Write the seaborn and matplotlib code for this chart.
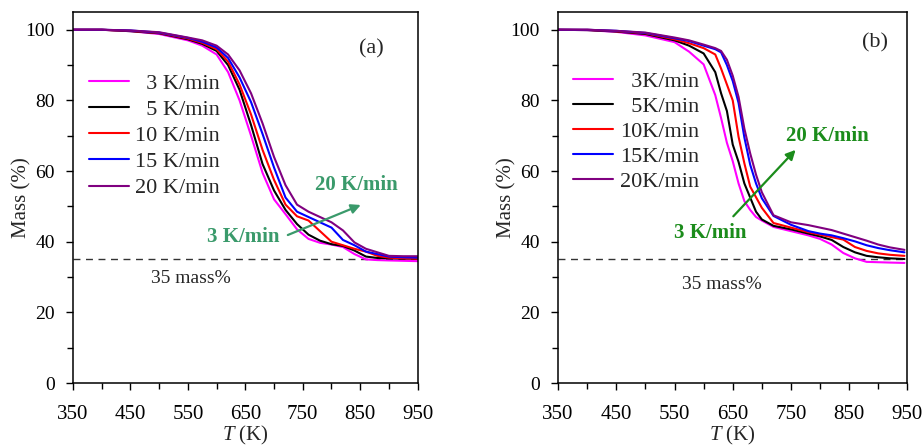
"""
TGA mass-loss curves at five heating rates, two samples (a) and (b).
"""

import numpy as np
import pandas as pd
import matplotlib
matplotlib.use("Agg")
import matplotlib.pyplot as plt
from matplotlib.ticker import FixedLocator, MultipleLocator
import seaborn as sns


# -----------------------------
# Data
# -----------------------------
RATES = ["3", "5", "10", "15", "20"]
COLORS = ["#FF00FF", "#000000", "#FF0000", "#0000FF", "#800080"]
X_TICKS = [350, 450, 550, 650, 750, 850, 950]

# panel (a)
T_A = [350, 400, 450, 500, 550, 575, 600, 620, 640, 660, 680, 700, 720, 740,
       760, 780, 800, 820, 840, 860, 880, 900, 925, 950]
MASS_A_3 = [100, 100, 99.6, 98.8, 97.0, 95.5, 93.0, 88.0, 80.0, 70.0, 59.5, 52.0,
            47.8, 43.5, 40.8, 39.7, 39.2, 38.5, 36.5, 35.0, 34.8, 34.7, 34.6, 34.5]
MASS_A_5 = [100, 100, 99.6, 99.0, 97.3, 96.0, 94.0, 90.0, 83.0, 73.0, 62.0, 54.5,
            49.0, 45.0, 42.0, 40.3, 39.3, 38.8, 37.5, 35.8, 35.4, 35.3, 35.2, 35.2]
MASS_A_10 = [100, 100, 99.7, 99.1, 97.5, 96.3, 94.5, 91.0, 84.5, 76.0, 66.0, 57.5,
             50.5, 47.2, 46.0, 43.0, 40.0, 39.0, 38.0, 37.2, 36.0, 35.5, 35.3, 35.2]
MASS_A_15 = [100, 100, 99.8, 99.2, 97.7, 96.6, 95.0, 92.0, 86.5, 79.5, 70.5, 61.0,
             52.5, 48.5, 47.0, 45.5, 44.0, 40.5, 39.0, 37.2, 36.5, 35.8, 35.6, 35.5]
MASS_A_20 = [100, 100, 99.8, 99.3, 97.8, 97.0, 95.5, 93.0, 88.5, 82.0, 73.5, 64.0,
             56.0, 50.5, 48.5, 47.0, 45.5, 43.2, 39.8, 38.0, 37.0, 36.0, 35.9, 35.9]

# panel (b)
T_B = [350, 400, 450, 500, 550, 575, 600, 620, 630, 640, 650, 660, 670, 680, 690,
       700, 720, 750, 780, 800, 820, 840, 860, 880, 900, 920, 945]
MASS_B_3 = [100, 99.9, 99.4, 98.4, 96.5, 93.8, 90.2, 81.5, 75.0, 68.0, 62.8, 56.5,
            51.5, 49.0, 47.0, 46.0, 44.2, 43.0, 41.8, 40.8, 39.2, 36.8, 35.3, 34.3,
            34.2, 34.1, 34.0]
MASS_B_5 = [100, 99.9, 99.5, 98.8, 97.0, 95.5, 93.3, 88.0, 82.0, 77.0, 67.5, 62.6,
            56.5, 52.5, 48.5, 46.3, 44.5, 43.5, 42.3, 41.5, 40.5, 38.5, 37.0, 36.0,
            35.6, 35.3, 35.1]
MASS_B_10 = [100, 100, 99.6, 99.0, 97.3, 96.2, 94.8, 93.0, 89.0, 84.5, 80.0, 69.7,
             62.2, 55.6, 52.6, 49.6, 45.3, 44.0, 42.7, 42.0, 41.3, 40.6, 38.5, 37.4,
             36.7, 36.3, 36.0]
MASS_B_15 = [100, 100, 99.7, 99.1, 97.6, 96.8, 95.5, 94.5, 93.6, 90.0, 85.5, 79.3,
             69.5, 61.8, 56.5, 52.3, 47.3, 44.8, 43.0, 42.3, 41.8, 41.0, 40.1, 39.0,
             38.2, 37.6, 37.0]
MASS_B_20 = [100, 100, 99.7, 99.2, 97.8, 97.0, 95.8, 94.8, 94.0, 91.5, 87.0, 81.0,
             72.0, 65.0, 59.0, 54.0, 47.5, 45.5, 44.7, 44.0, 43.3, 42.3, 41.3, 40.3,
             39.2, 38.4, 37.7]

LABELS_A = ["  3 K/min", "  5 K/min", "10 K/min", "15 K/min", "20 K/min"]
LABELS_B = ["  3K/min", "  5K/min", "10K/min", "15K/min", "20K/min"]


def to_long(temps, series):
    frames = []
    for rate, mass in zip(RATES, series):
        frames.append(pd.DataFrame({"T": temps, "Mass": mass, "Rate": rate}))
    return pd.concat(frames, ignore_index=True)


df_a = to_long(T_A, [MASS_A_3, MASS_A_5, MASS_A_10, MASS_A_15, MASS_A_20])
df_b = to_long(T_B, [MASS_B_3, MASS_B_5, MASS_B_10, MASS_B_15, MASS_B_20])

# -----------------------------
# Style
# -----------------------------
sns.set_style("ticks")
plt.rcParams["font.family"] = ["Liberation Serif", "DejaVu Serif"]
plt.rcParams["mathtext.fontset"] = "custom"
plt.rcParams["mathtext.it"] = "Liberation Serif:italic"
plt.rcParams["mathtext.rm"] = "Liberation Serif"

palette = dict(zip(RATES, COLORS))

fig = plt.figure(figsize=(9.24, 4.48), dpi=100)
ax_a = fig.add_axes([0.079, 0.145, 0.373, 0.828])
ax_b = fig.add_axes([0.604, 0.145, 0.378, 0.828])


def style_axis(ax):
    ax.set_xlim(350, 950)
    ax.set_ylim(0, 105)
    ax.xaxis.set_major_locator(FixedLocator(X_TICKS))
    ax.xaxis.set_minor_locator(FixedLocator([x + 50 for x in X_TICKS[:-1]]))
    ax.yaxis.set_major_locator(MultipleLocator(20))
    ax.yaxis.set_minor_locator(MultipleLocator(10))
    ax.tick_params(axis="both", which="major", direction="out", length=5,
                   width=1, color="black", labelcolor="black")
    ax.tick_params(axis="x", which="major", labelsize=15, pad=11)
    ax.tick_params(axis="y", which="major", labelsize=14, pad=8)
    ax.tick_params(axis="both", which="minor", direction="out", length=4,
                   width=1, color="black")
    ax.tick_params(top=False, right=False)
    for sp in ax.spines.values():
        sp.set_color("black")
        sp.set_linewidth(1.1)
    ax.axhline(35, color="#333333", lw=1.0, ls=(0, (5, 4)), zorder=1)
    ax.set_xlabel("$T$ (K)", fontsize=15, labelpad=0)
    ax.set_ylabel("Mass (%)", fontsize=15, labelpad=-4)


for ax, df, labels, tag in [(ax_a, df_a, LABELS_A, "(a)"), (ax_b, df_b, LABELS_B, "(b)")]:
    sns.lineplot(data=df, x="T", y="Mass", hue="Rate", hue_order=RATES,
                 palette=palette, estimator=None, sort=True, lw=1.5, ax=ax)
    style_axis(ax)
    handles, _ = ax.get_legend_handles_labels()
    ax.legend(handles[:5], labels, loc="upper left", frameon=False, fontsize=16,
              handlelength=1.8, handletextpad=0.3,
              labelspacing=0.25 if tag == "(a)" else 0.2,
              borderpad=0, borderaxespad=0,
              bbox_to_anchor=(0.045, 0.835) if tag == "(a)" else (0.043, 0.84))

# panel (a) annotations
ax_a.text(869, 94.6, "(a)", fontsize=16, ha="center", va="center")
ax_a.text(556, 29.7, "35 mass%", fontsize=14, ha="center", va="center")
ax_a.annotate("", xy=(851, 50.4), xytext=(724, 41.9),
              arrowprops=dict(arrowstyle="-|>", color="#3A9A6B", lw=1.6,
                              mutation_scale=14, shrinkA=0, shrinkB=0))
ax_a.text(843, 56, "20 K/min", fontsize=15, fontweight="bold", color="#3A9A6B",
          ha="center", va="center")
ax_a.text(646, 41.4, "3 K/min", fontsize=15, fontweight="bold", color="#3A9A6B",
          ha="center", va="center")

# panel (b) annotations
ax_b.text(895, 96.2, "(b)", fontsize=16, ha="center", va="center")
ax_b.text(631, 27.8, "35 mass%", fontsize=14, ha="center", va="center")
ax_b.annotate("", xy=(758, 66), xytext=(651, 47.2),
              arrowprops=dict(arrowstyle="-|>", color="#1B8C1B", lw=1.6,
                              mutation_scale=14, shrinkA=0, shrinkB=0))
ax_b.text(812, 69.8, "20 K/min", fontsize=15, fontweight="bold", color="#1B8C1B",
          ha="center", va="center")
ax_b.text(611, 42.5, "3 K/min", fontsize=15, fontweight="bold", color="#1B8C1B",
          ha="center", va="center")

fig.savefig("out.png", dpi=100)
